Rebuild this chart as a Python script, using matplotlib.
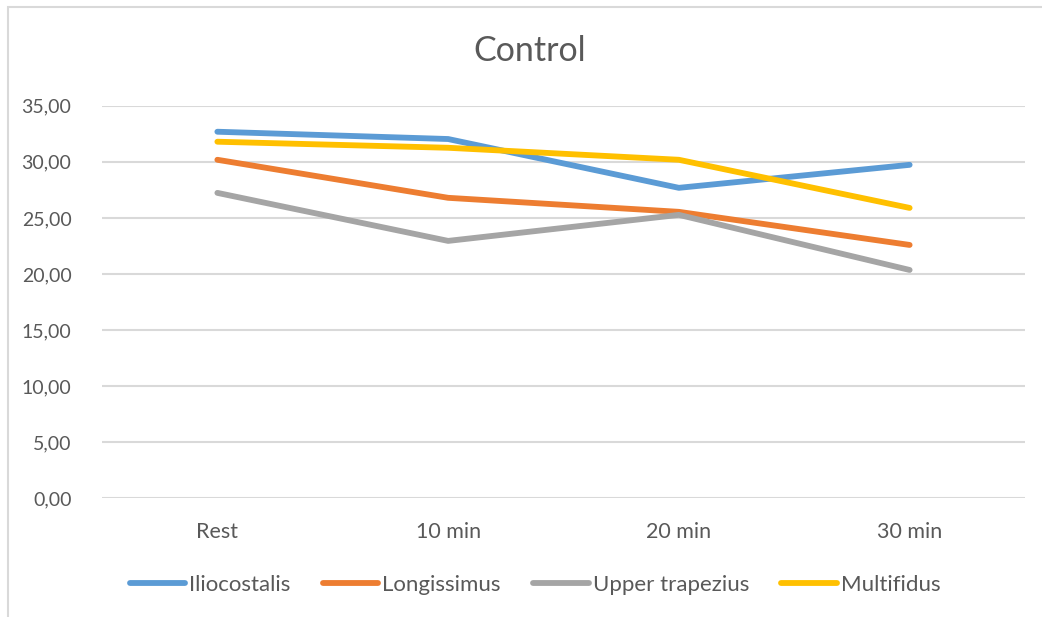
import matplotlib
matplotlib.use('Agg')
import matplotlib.pyplot as plt
from matplotlib.patches import Rectangle

# data
times = ['Rest', '10 min', '20 min', '30 min']
iliocostalis = [32.68, 32.03, 27.68, 29.73]
longissimus = [30.18, 26.79, 25.54, 22.59]
upper_trapezius = [27.23, 22.95, 25.27, 20.36]
multifidus = [31.79, 31.25, 30.18, 25.89]

series = [
    ('Iliocostalis', iliocostalis, '#5B9BD5'),
    ('Longissimus', longissimus, '#ED7D31'),
    ('Upper trapezius', upper_trapezius, '#A5A5A5'),
    ('Multifidus', multifidus, '#FFC000'),
]

plt.rcParams['font.family'] = ['Lato', 'DejaVu Sans']
txt = '#595959'

fig = plt.figure(figsize=(10.42, 6.17), dpi=100)
# light frame round the chart area, like the Excel chart border
fig.patches.append(Rectangle((8 / 1042, -0.05), 1.1, 1 - 7 / 617 + 0.05,
                             transform=fig.transFigure, fill=False,
                             edgecolor='#D9D9D9', linewidth=1.5))

ax = fig.add_axes([102 / 1042, 1 - 498.4 / 617, 923 / 1042, 392.7 / 617])
x = range(len(times))
for name, vals, col in series:
    ax.plot(x, vals, color=col, linewidth=4.2, label=name, solid_capstyle='round')

ax.set_xlim(-0.5, len(times) - 0.5)
ax.set_ylim(0, 35)
ax.set_yticks(range(0, 36, 5))
ax.set_yticklabels([f'{v:.2f}'.replace('.', ',') for v in range(0, 36, 5)])
ax.set_xticks(list(x))
ax.set_xticklabels(times)
ax.tick_params(length=0, colors=txt)
ax.tick_params(axis='y', pad=22, labelsize=14)
ax.tick_params(axis='x', pad=17, labelsize=15.5)
ax.grid(axis='y', color='#D9D9D9', linewidth=1.5)
ax.set_axisbelow(True)
for s in ax.spines.values():
    s.set_visible(False)

fig.text(530 / 1042, 1 - 51 / 617, 'Control', ha='center', va='center',
         fontsize=24.5, color=txt)

fig.legend(loc='center', bbox_to_anchor=(535 / 1042, 1 - 585 / 617), ncol=4,
           frameon=False, fontsize=16, labelcolor=txt, handlelength=2.5,
           handletextpad=0.18, columnspacing=1.45)

plt.savefig('out.png', dpi=100)
